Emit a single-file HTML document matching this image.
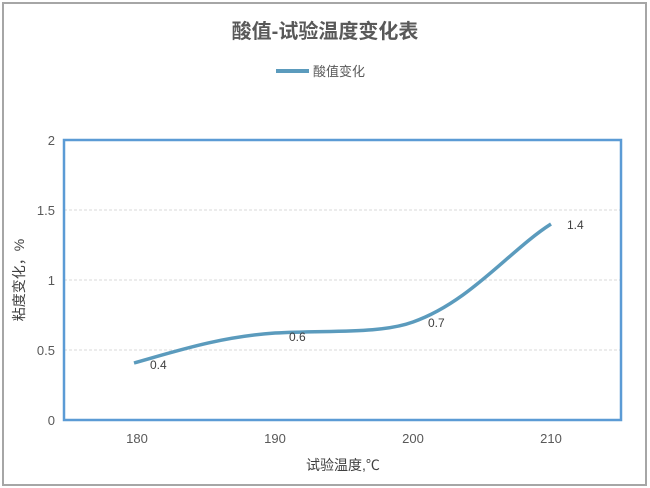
<!DOCTYPE html>
<html><head><meta charset="utf-8"><style>
body{margin:0;background:#fff;}
svg{display:block;font-family:"Liberation Sans","Noto Sans CJK SC",sans-serif;}
</style></head><body>
<svg width="650" height="488" viewBox="0 0 650 488">
<rect x="3" y="3" width="643" height="482" fill="#fff" stroke="#a6a6a6" stroke-width="2"/>
<text x="325" y="38" text-anchor="middle" font-size="20" font-weight="bold" fill="#595959">酸值-试验温度变化表</text>
<line x1="276" y1="71" x2="309" y2="71" stroke="#5b9bbd" stroke-width="4"/>
<text x="313" y="76" font-size="13" fill="#595959">酸值变化</text>
<g stroke="#d9d9d9" stroke-width="1" stroke-dasharray="3,2">
<line x1="64" y1="210" x2="621" y2="210"/>
<line x1="64" y1="280" x2="621" y2="280"/>
<line x1="64" y1="350" x2="621" y2="350"/>
</g>
<rect x="64" y="140" width="557" height="280" fill="none" stroke="#5b9bd5" stroke-width="2.5"/>
<g font-size="13" fill="#595959" text-anchor="end">
<text x="55" y="145">2</text><text x="55" y="215">1.5</text><text x="55" y="285">1</text><text x="55" y="355">0.5</text><text x="55" y="425">0</text>
</g>
<g font-size="13" fill="#595959" text-anchor="middle">
<text x="137" y="443">180</text><text x="275" y="443">190</text><text x="413" y="443">200</text><text x="551" y="443">210</text>
</g>
<text x="343" y="470" text-anchor="middle" font-size="14" fill="#404040">试验温度,℃</text>
<text transform="translate(24,280) rotate(-90)" text-anchor="middle" font-size="14" fill="#404040">粘度变化，%</text>
<path d="M134,363 C180,350 220,337 275,333 C330,330 380,334 413,322 C470,302 510,250 551,224" fill="none" stroke="#5b9bbd" stroke-width="3.5"/>
<g font-size="12" fill="#404040">
<text x="150" y="369">0.4</text><text x="289" y="341">0.6</text><text x="428" y="327">0.7</text><text x="567" y="229">1.4</text>
</g>
</svg>
</body></html>
